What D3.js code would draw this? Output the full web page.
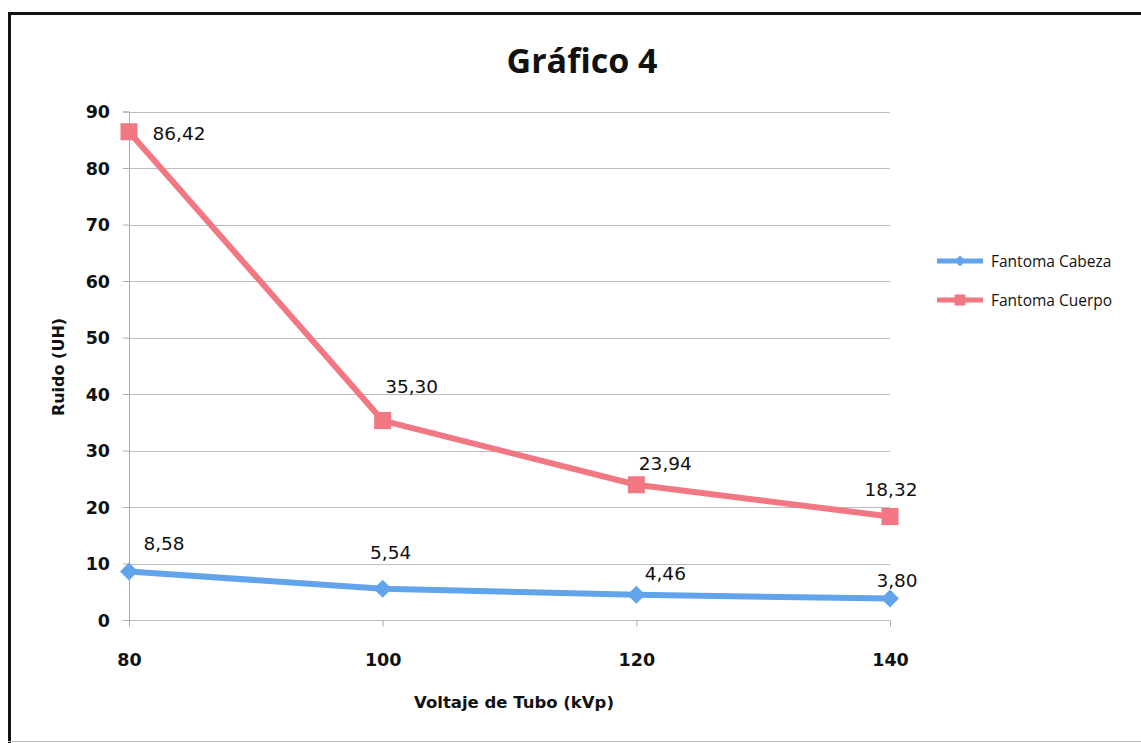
<!DOCTYPE html>
<html>
<head>
<meta charset="utf-8">
<script src="https://d3js.org/d3.v7.min.js"></script>
<style>
  html, body { margin: 0; padding: 0; background: #fff; }
  svg { display: block; }
</style>
</head>
<body>
<svg id="chart" width="1141" height="743"></svg>
<script>
// Tube voltage (kVp) on the x axis, image noise (HU) on the y axis
const voltages = [80, 100, 120, 140];
const seriesNames = ["Fantoma Cabeza", "Fantoma Cuerpo"];
const cabezaValues = [8.58, 5.54, 4.46, 3.80];
const cuerpoValues = [86.42, 35.30, 23.94, 18.32];
const yTicks = [0, 10, 20, 30, 40, 50, 60, 70, 80, 90];
const chartTitle = "Gráfico 4";
const xTitle = "Voltaje de Tubo (kVp)";
const yTitle = "Ruido (UH)";

const series = [
  { name: seriesNames[0], values: cabezaValues, color: "#62a4ec", marker: "diamond",
    labelDx: [35, 8, 29, 7], labelDy: [-22, -30, -15, -12] },
  { name: seriesNames[1], values: cuerpoValues, color: "#f17782", marker: "square",
    labelDx: [50, 29, 29, 1], labelDy: [8, -28, -15, -20] }
];

const svg = d3.select("#chart");
const margin = { left: 129, right: 890, top: 111.5, bottom: 620 };

const x = d3.scalePoint().domain(voltages).range([margin.left, margin.right]);
const y = d3.scaleLinear().domain([0, 90]).range([margin.bottom, margin.top]);

// page frame
svg.append("line").attr("x1", 9.5).attr("x2", 9.5).attr("y1", 12).attr("y2", 743)
  .attr("stroke", "#111").attr("stroke-width", 3);
svg.append("line").attr("x1", 8).attr("x2", 1141).attr("y1", 13.5).attr("y2", 13.5)
  .attr("stroke", "#111").attr("stroke-width", 3);
svg.append("line").attr("x1", 8).attr("x2", 1141).attr("y1", 741.5).attr("y2", 741.5)
  .attr("stroke", "#bbb").attr("stroke-width", 1);

// title
svg.append("text").attr("x", 582).attr("y", 73).attr("text-anchor", "middle")
  .attr("font-family", "'Open Sans', sans-serif").attr("font-weight", 700)
  .attr("font-size", 34).attr("fill", "#111").text(chartTitle);

// y axis with tick labels
const yAxis = d3.axisLeft(y).tickValues(yTicks).tickSize(6).tickFormat(d3.format("d"));
const yG = svg.append("g").attr("transform", `translate(${margin.left},0)`).call(yAxis);
yG.select(".domain").attr("stroke", "#aaa").attr("stroke-width", 1);
yG.selectAll(".tick line").attr("stroke", "#aaa");
yG.selectAll(".tick text")
  .attr("x", -19).attr("dy", "0.36em")
  .attr("font-family", "'DejaVu Sans', sans-serif").attr("font-weight", 700)
  .attr("font-size", 17.5).attr("fill", "#111");

// horizontal gridlines
svg.append("g").selectAll("line").data(yTicks).join("line")
  .attr("x1", margin.left).attr("x2", margin.right)
  .attr("y1", d => Math.round(y(d)) + 0.5).attr("y2", d => Math.round(y(d)) + 0.5)
  .attr("stroke", "#bcbcbc").attr("stroke-width", 1);

// x axis
const xAxis = d3.axisBottom(x).tickSize(6).tickFormat(d3.format("d"));
const xG = svg.append("g").attr("transform", `translate(0,${margin.bottom + 0.5})`).call(xAxis);
xG.select(".domain").remove();
xG.selectAll(".tick line").attr("stroke", "#aaa");
xG.selectAll(".tick text")
  .attr("y", 45).attr("dy", 0)
  .attr("font-family", "'DejaVu Sans', sans-serif").attr("font-weight", 700)
  .attr("font-size", 17.5).attr("fill", "#111");

// axis titles
svg.append("text").attr("x", 514).attr("y", 708).attr("text-anchor", "middle")
  .attr("font-family", "'DejaVu Sans', sans-serif").attr("font-weight", 700)
  .attr("font-size", 16.5).attr("fill", "#111").text(xTitle);
svg.append("text").attr("transform", "translate(64,367) rotate(-90)")
  .attr("text-anchor", "middle")
  .attr("font-family", "'DejaVu Sans', sans-serif").attr("font-weight", 700)
  .attr("font-size", 16).attr("fill", "#111").text(yTitle);

// series lines, markers, value labels
const line = d3.line().x((d, i) => x(voltages[i])).y(d => y(d));
const fmt = v => d3.format(".2f")(v).replace(".", ",");

function drawMarker(g, type, cx, cy, color, s) {
  if (type === "diamond") {
    g.append("path")
      .attr("d", `M${cx},${cy - s}L${cx + s},${cy}L${cx},${cy + s}L${cx - s},${cy}Z`)
      .attr("fill", color);
  } else {
    g.append("rect").attr("x", cx - s).attr("y", cy - s)
      .attr("width", 2 * s).attr("height", 2 * s).attr("fill", color);
  }
}

series.forEach(s => {
  const g = svg.append("g");
  g.append("path").datum(s.values).attr("d", line)
    .attr("fill", "none").attr("stroke", s.color).attr("stroke-width", 6)
    .attr("stroke-linejoin", "round");
  s.values.forEach((v, i) => {
    drawMarker(g, s.marker, x(voltages[i]), y(v), s.color, s.marker === "diamond" ? 9 : 8.5);
  });
  g.selectAll("text").data(s.values).join("text")
    .attr("x", (d, i) => x(voltages[i]) + s.labelDx[i])
    .attr("y", (d, i) => y(d) + s.labelDy[i])
    .attr("text-anchor", "middle")
    .attr("font-family", "'DejaVu Sans', sans-serif")
    .attr("font-size", 18.5).attr("fill", "#111")
    .text(d => fmt(d));
});

// legend
const legend = svg.append("g");
series.forEach((s, i) => {
  const ly = 261 + i * 39;
  legend.append("line").attr("x1", 937).attr("x2", 983).attr("y1", ly).attr("y2", ly)
    .attr("stroke", s.color).attr("stroke-width", 5);
  drawMarker(legend, s.marker, 960, ly, s.color, 5.5);
  legend.append("text").attr("x", 991).attr("y", ly + 6)
    .attr("font-family", "'Open Sans', sans-serif").attr("font-size", 15.5)
    .attr("fill", "#111").text(s.name);
});
</script>
</body>
</html>
